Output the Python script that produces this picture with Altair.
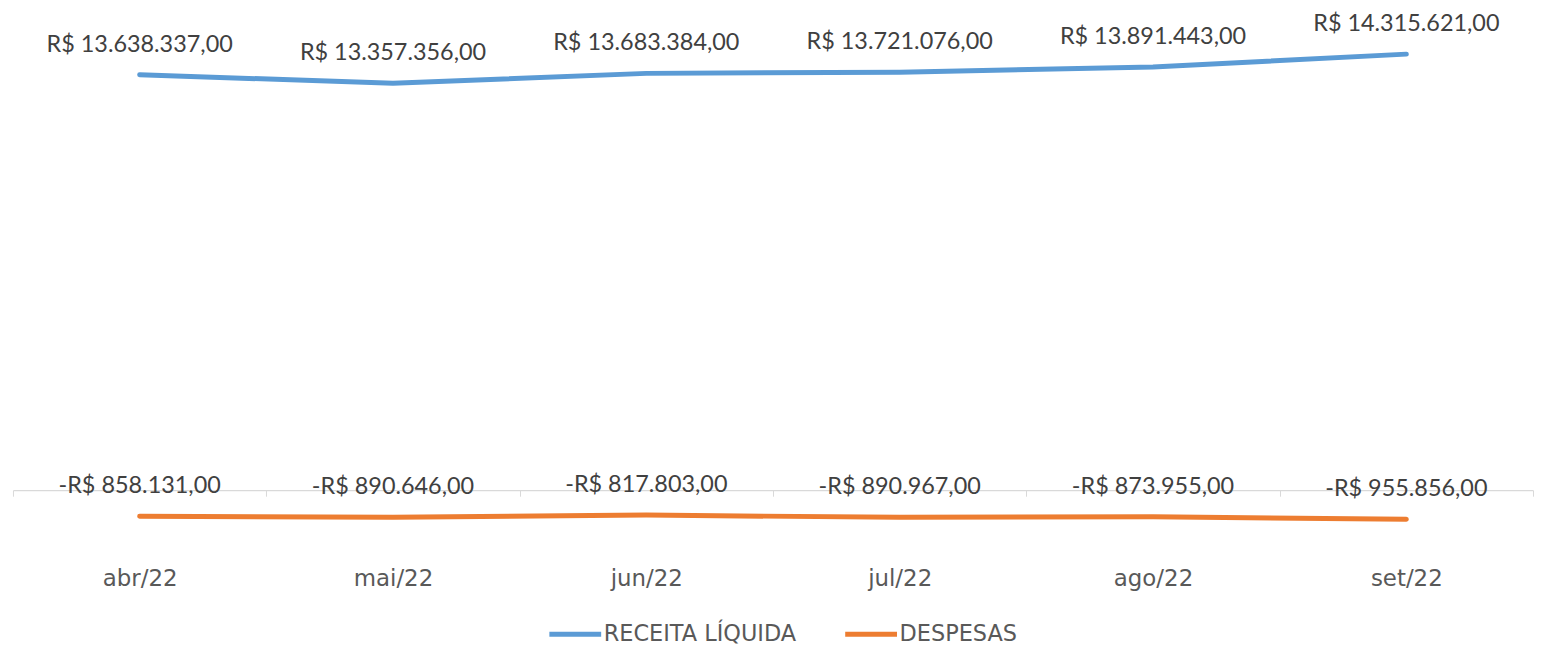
import altair as alt
import pandas as pd

meses = ["abr/22", "mai/22", "jun/22", "jul/22", "ago/22", "set/22"]
series = ["RECEITA LÍQUIDA", "DESPESAS"]
receita = [13638337, 13357356, 13683384, 13721076, 13891443, 14315621]
despesas = [-858131, -890646, -817803, -890967, -873955, -955856]


def brl(v):
    s = f"{abs(v):,.2f}".replace(",", "X").replace(".", ",").replace("X", ".")
    return ("-R$ " if v < 0 else "R$ ") + s


rows = []
for serie, vals in zip(series, [receita, despesas]):
    for m, v in zip(meses, vals):
        rows.append({"mes": m, "serie": serie, "valor": v, "rotulo": brl(v)})
df = pd.DataFrame(rows)

W = 1526
H = 526
ymin, ymax = -2.0e6, 15.2e6
zero_offset = -(0 - ymin) / (ymax - ymin) * H

x = alt.X(
    "mes:N",
    sort=meses,
    bandPosition=0.5,
    scale=alt.Scale(type="band", paddingInner=0, paddingOuter=0),
    axis=alt.Axis(
        title=None,
        labelAngle=0,
        offset=zero_offset,
        tickBand="extent",
        tickSize=6,
        tickColor="#D9D9D9",
        domainColor="#D9D9D9",
        domainWidth=1.3,
        labelPadding=72,
        labelFont="DejaVu Sans",
        labelFontSize=23,
        labelColor="#595959",
        grid=False,
    ),
)
y = alt.Y("valor:Q", axis=None, scale=alt.Scale(domain=[ymin, ymax]))

base = alt.Chart(df).encode(x=x, y=y)

lines = base.mark_line(strokeWidth=5, strokeCap="round", strokeJoin="round").encode(
    color=alt.Color(
        "serie:N",
        title=None,
        sort=series,
        scale=alt.Scale(domain=series, range=["#5B9BD5", "#ED7D31"]),
        legend=alt.Legend(
            orient="none",
            legendX=536,
            legendY=581,
            direction="horizontal",
            symbolType="stroke",
            symbolSize=2704,
            symbolStrokeWidth=5,
            labelFont="DejaVu Sans",
            labelFontSize=22.5,
            labelColor="#595959",
            labelOffset=0,
            labelLimit=400,
            columnPadding=38,
        ),
    ),
    detail="serie:N",
)

labels = base.mark_text(
    font="Lato", fontSize=23.5, color="#404040", dy=-30, baseline="middle"
).encode(text="rotulo:N")

chart = (
    alt.layer(lines, labels)
    .properties(
        width=W,
        height=H,
        padding={"left": 4, "right": 0, "top": 3, "bottom": 0},
    )
    .configure_view(stroke=None)
)

chart.save("out.html", embed_options={"renderer": "svg", "actions": False})
